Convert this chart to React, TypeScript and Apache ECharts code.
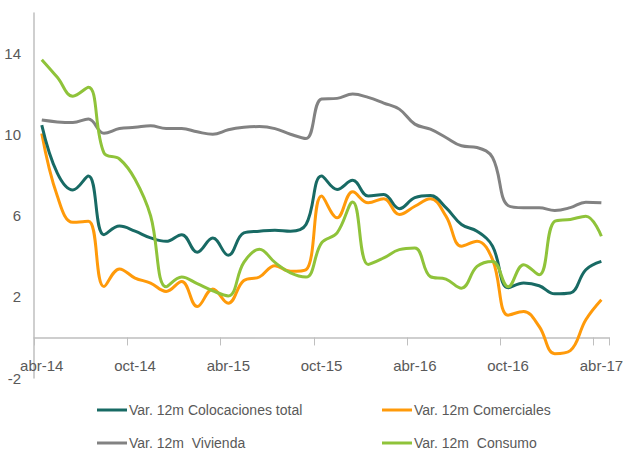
import React, { useEffect, useRef } from "react";
import * as echarts from "echarts";

const months = [
  "abr-14","may-14","jun-14","jul-14","ago-14","sep-14","oct-14","nov-14","dic-14","ene-15","feb-15","mar-15",
  "abr-15","may-15","jun-15","jul-15","ago-15","sep-15","oct-15","nov-15","dic-15","ene-16","feb-16","mar-16",
  "abr-16","may-16","jun-16","jul-16","ago-16","sep-16","oct-16","nov-16","dic-16","ene-17","feb-17","mar-17",
  "abr-17",
];

const colocacionesTotal = [
  10.47, 8.1, 7.27, 7.96, 5.07, 5.49, 5.24, 4.91, 4.74, 5.07, 4.2, 4.9,
  4.05, 5.16, 5.24, 5.29, 5.24, 5.57, 7.96, 7.3, 7.75, 6.97, 7.05, 6.35,
  6.89, 7.0, 6.4, 5.57, 5.24, 4.5, 2.45, 2.68, 2.55, 2.15, 2.19, 3.34,
  3.75,
];

const comerciales = [
  10.06, 6.97, 5.68, 5.73, 2.51, 3.38, 2.93, 2.68, 2.27, 2.76, 1.52, 2.39,
  1.69, 2.81, 2.98, 3.54, 3.26, 3.34, 6.97, 5.9, 7.18, 6.64, 6.84, 6.06,
  6.47, 6.84, 5.98, 4.5, 4.74, 3.84, 1.1, 1.28, 0.54, -0.8, -0.65, 0.87,
  1.86,
];

const vivienda = [
  10.72, 10.63, 10.6, 10.77, 10.07, 10.3, 10.36, 10.44, 10.3, 10.3, 10.14, 10.02,
  10.24, 10.36, 10.4, 10.3, 10.02, 9.81, 11.76, 11.79, 12.0, 11.84, 11.56, 11.26,
  10.52, 10.27, 9.86, 9.45, 9.37, 8.87, 6.5, 6.4, 6.4, 6.26, 6.4, 6.67,
  6.64,
];

const consumo = [
  13.7, 12.83, 11.9, 12.34, 9.1, 8.8, 7.8, 6.0, 2.5, 2.98, 2.65, 2.3,
  2.05, 3.7, 4.35, 3.7, 3.18, 2.98, 4.66, 5.16, 6.68, 3.6, 3.92, 4.33,
  4.41, 3.0, 2.88, 2.43, 3.5, 3.75, 2.5, 3.59, 3.09, 5.73, 5.82, 5.98,
  4.99,
];

const yLabels = [-2, 2, 6, 10, 14];

const seriesNames = [
  "Var. 12m Colocaciones total",
  "Var. 12m Comerciales",
  "Var. 12m  Vivienda",
  "Var. 12m  Consumo",
];
const seriesColors = ["#186a64", "#ff9a0a", "#828282", "#8fc33a"];
const seriesData = [colocacionesTotal, comerciales, vivienda, consumo];

export default function App() {
  const ref = useRef<HTMLDivElement>(null);
  useEffect(() => {
    if (!ref.current) return;
    const chart = echarts.init(ref.current, null, { renderer: "svg" });
    const font = "'Liberation Sans Narrow', 'Liberation Sans', Arial, sans-serif";
    const legendPos = [
      { left: 97, top: 403 },
      { left: 382, top: 403 },
      { left: 97, top: 436 },
      { left: 382, top: 436 },
    ];
    chart.setOption({
      animation: false,
      backgroundColor: "#ffffff",
      grid: { left: 34, right: 13, top: 13, bottom: 73, containLabel: false },
      legend: seriesNames.map((n, i) => ({
        data: [n],
        left: legendPos[i].left,
        top: legendPos[i].top,
        icon: "rect",
        itemWidth: 30,
        itemHeight: 3,
        itemGap: 0,
        padding: 0,
        selectedMode: false,
        textStyle: { fontFamily: font, fontSize: 14, color: "#595959", padding: [0, 0, 0, -3] },
      })),
      xAxis: {
        type: "category",
        data: months,
        boundaryGap: true,
        axisLine: { show: true, onZero: true, lineStyle: { color: "#bfbfbf", width: 1.5 } },
        axisTick: { show: true, interval: 5, length: 8, lineStyle: { color: "#bfbfbf" } },
        axisLabel: {
          interval: 5,
          margin: -20,
          fontFamily: font,
          fontSize: 15,
          color: "#595959",
        },
        splitLine: { show: false },
      },
      yAxis: {
        type: "value",
        min: -2,
        max: 16,
        interval: 2,
        axisLine: { show: true, lineStyle: { color: "#bfbfbf", width: 1.5 } },
        axisTick: { show: false },
        splitLine: { show: false },
        axisLabel: {
          margin: 13,
          fontFamily: font,
          fontSize: 15,
          color: "#595959",
          showMaxLabel: false,
          formatter: (v: number) => (yLabels.includes(v) ? String(v) : ""),
        },
      },
      series: seriesNames.map((n, i) => ({
        name: n,
        type: "line",
        data: seriesData[i],
        smooth: 0.4,
        symbol: "none",
        lineStyle: { color: seriesColors[i], width: 3 },
        itemStyle: { color: seriesColors[i] },
        z: [3, 2, 1, 4][i],
      })),
    });
    return () => chart.dispose();
  }, []);
  return (
    <div
      ref={ref}
      style={{ position: "fixed", left: 0, top: 0, width: 626, height: 451, overflow: "hidden" }}
    />
  );
}
